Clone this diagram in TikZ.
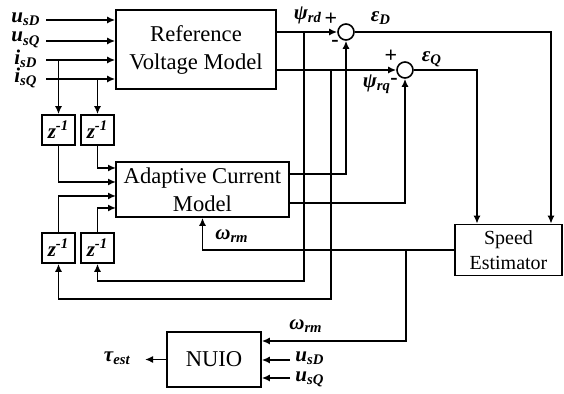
\documentclass[tikz,border=0pt]{standalone}
\usepackage{fontspec}
\setmainfont{Liberation Serif}
\usetikzlibrary{arrows.meta,positioning}

\newcommand{\sgl}[2]{#1\textsubscript{#2}}

\tikzset{
  block/.style={draw, line width=0.8pt, align=center, inner sep=0pt, font=\fontsize{11.3}{14}\selectfont},
  delay/.style={draw, line width=0.8pt, minimum width=16.5pt, minimum height=15pt, inner sep=0pt, font=\fontsize{10.5}{12}\selectfont\bfseries\itshape},
  sumnode/.style={draw, circle, line width=0.8pt, minimum size=8pt, inner sep=0pt},
  sig/.style={inner sep=0pt, font=\fontsize{10.5}{12}\selectfont\bfseries\itshape},
  signmark/.style={inner sep=0pt, font=\fontsize{11}{13}\selectfont\bfseries},
  arr/.style={line width=0.8pt, -{Latex[length=4pt,width=3.5pt]}},
}

\begin{document}
\begin{tikzpicture}[x=0.5pt, y=-0.5pt]
\useasboundingbox (0,0) rectangle (564,394);

% Blocks
\node[block, minimum width=80pt, minimum height=39.5pt] (refmodel) at (196,49.5) {Reference\\Voltage Model};
\node[block, minimum width=86.5pt, minimum height=27.5pt] (adapmodel) at (202.5,189.5) {Adaptive Current\\Model};
\node[block, minimum width=53.5pt, minimum height=25.5pt, font=\fontsize{10}{12.5}\selectfont] (speedest) at (508.5,250) {Speed\\Estimator};
\node[block, minimum width=47pt, minimum height=27.5pt] (nuio) at (214,359.5) {NUIO};

% Unit delays
\node[delay] (zA) at (58.5,130) {z\textsuperscript{-1}};
\node[delay] (zB) at (97.5,130) {z\textsuperscript{-1}};
\node[delay] (zC) at (58.5,248) {z\textsuperscript{-1}};
\node[delay] (zD) at (97.5,248) {z\textsuperscript{-1}};

% Summing junctions
\node[sumnode] (sumD) at (346,32) {};
\node[sumnode] (sumQ) at (405,70) {};

% Stator inputs
\foreach \n/\y/\b/\s in {usD/20/u/sD, usQ/41/u/sQ, isD/60/i/sD, isQ/79/i/sQ} {
    \coordinate (\n) at (46,\y);
    \node[sig] (lbl\n) at (26,\y-1) {\sgl{\b}{\s}};
    \draw[arr] (\n) -- (\n -| refmodel.west);
}
\draw[arr] (isD -| zA) -- (zA.north);
\draw[arr] (isQ -| zB) -- (zB.north);

% Inputs of the adaptive model
\coordinate (acm1) at (116,168);
\coordinate (acm2) at (116,182);
\coordinate (acm3) at (116,196);
\coordinate (acm4) at (116,208);
\draw[arr] (zB.south) |- (acm1);
\draw[arr] (zA.south) |- (acm2);
\draw[arr] (zC.north) |- (acm3);
\draw[arr] (zD.north) |- (acm4);

% Rotor flux paths
\coordinate (acmo1) at (289,174);
\coordinate (acmo2) at (289,203);
\draw[arr] (refmodel.east |- sumD) -- (sumD.west);
\draw[arr] (refmodel.east |- sumQ) -- (sumQ.west);
\draw[arr] (acmo1) -| (sumD.south);
\draw[arr] (acmo2) -| (sumQ.south);

% Feedback to the delays
\coordinate (tapD) at (304,32);
\coordinate (fbD) at (304,281);
\coordinate (tapQ) at (331,70);
\coordinate (fbQ) at (331,299);
\draw[arr] (tapD) -- (fbD) -| (zD.south);
\draw[arr] (tapQ) -- (fbQ) -| (zC.south);

% Errors to the speed estimator
\coordinate (seD) at (551,0);
\coordinate (seQ) at (477,0);
\draw[arr] (sumD.east) -| (speedest.north -| seD);
\draw[arr] (sumQ.east) -| (speedest.north -| seQ);

% Estimated speed
\coordinate (brw) at (406,250);
\coordinate (nin1) at (406,341);
\draw[arr] (speedest.west) -| (adapmodel.south);
\draw[arr] (brw) -- (nin1) -- (nin1 -| nuio.east);

% NUIO inputs and output
\foreach \n/\y/\ly/\s in {usDn/360/358/sD, usQn/378/379.5/sQ} {
    \coordinate (\n) at (290,\y);
    \node[sig, anchor=west] (lbl\n) at (295,\ly) {\sgl{u}{\s}};
    \draw[arr] (\n) -- (\n -| nuio.east);
}
\node[sig, anchor=east] (tauest) at (131,358) {\sgl{τ}{est}};
\draw[arr, shorten >=7pt] (nuio.west) -- (nuio.west -| tauest.east);

% Signal labels
\node[sig] (psird) at (308,15) {\sgl{ψ}{rd}};
\node[sig] (psirq) at (377,84) {\sgl{ψ}{rq}};
\node[sig] (epsD) at (381,18) {\sgl{ε}{D}};
\node[sig] (epsQ) at (432,59) {\sgl{ε}{Q}};
\node[sig] (wrmA) at (232,236) {\sgl{ω}{rm}};
\node[sig] (wrmB) at (306,326) {\sgl{ω}{rm}};

% Signs
\node[signmark] (plusD) at (331,19) {+};
\node[signmark] (minusD) at (335,43) {-};
\node[signmark] (plusQ) at (391,56) {+};
\node[signmark] (minusQ) at (394,81) {-};

\end{tikzpicture}
\end{document}
